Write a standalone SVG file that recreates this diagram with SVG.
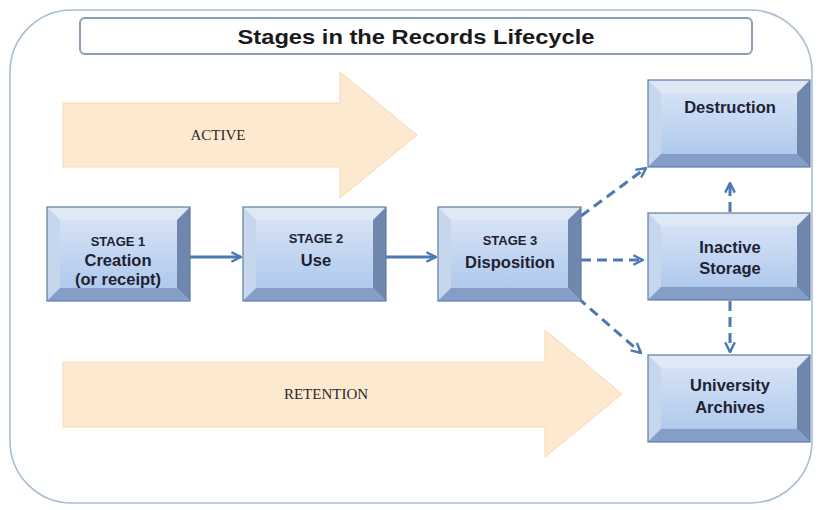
<svg xmlns="http://www.w3.org/2000/svg" xmlns:xlink="http://www.w3.org/1999/xlink" width="822" height="510" viewBox="0 0 822 510">
<style>
.frame{fill:#ffffff;stroke:#a9bdd3;stroke-width:1.6}
.titlebox{fill:#ffffff;stroke:#8c9fb8;stroke-width:2}
.title{font-family:"Liberation Sans",Arial,sans-serif;font-weight:bold;font-size:21px;fill:#1a1a1a;text-anchor:middle}
.band{fill:#fde9cf;stroke:#f6d9b2;stroke-width:1}
.bandtxt{font-family:"Liberation Serif","Times New Roman",serif;font-size:15px;fill:#2a2a2a;text-anchor:middle}
.bt{fill:#dfe8f5}
.bl{fill:#c6d6ed}
.br{fill:#6f87ad}
.bb{fill:#859ec8}
.edge{fill:none;stroke:#5f7ca6;stroke-width:1.2}
.lbl{font-family:"Liberation Sans",Arial,sans-serif;font-weight:bold;fill:#1d2233;text-anchor:middle}
.s{font-size:13px}
.m{font-size:16.5px}
.conn{fill:none;stroke:#4a79b4;stroke-width:3}
.dash{stroke-dasharray:10 6}
</style>
<defs>
<linearGradient id="face" x1="0" y1="0" x2="0" y2="1">
<stop offset="0" stop-color="#dce7f6"/>
<stop offset="1" stop-color="#a9c4ec"/>
</linearGradient>
<marker id="ah" viewBox="0 0 10 10" refX="9" refY="5" markerWidth="4" markerHeight="4" orient="auto" markerUnits="strokeWidth">
<path d="M1,1 L9,5 L1,9" fill="none" stroke="#4a79b4" stroke-width="2"/>
</marker>
<g id="boxA">
<rect x="0" y="0" width="143" height="94" fill="url(#face)"/>
<polygon class="bt" points="0,0 143,0 130,13 13,13"/>
<polygon class="bl" points="0,0 13,13 13,81 0,94"/>
<polygon class="br" points="143,0 143,94 130,81 130,13"/>
<polygon class="bb" points="0,94 13,81 130,81 143,94"/>
<rect class="edge" x="0" y="0" width="143" height="94"/>
</g>
<g id="boxB">
<rect x="0" y="0" width="162" height="87" fill="url(#face)"/>
<polygon class="bt" points="0,0 162,0 149,13 13,13"/>
<polygon class="bl" points="0,0 13,13 13,74 0,87"/>
<polygon class="br" points="162,0 162,87 149,74 149,13"/>
<polygon class="bb" points="0,87 13,74 149,74 162,87"/>
<rect class="edge" x="0" y="0" width="162" height="87"/>
</g>
</defs>

<rect class="frame" x="10" y="10" width="802" height="493" rx="62" ry="62"/>

<g id="title">
<rect class="titlebox" x="80" y="18" width="672" height="36" rx="5" ry="5"/>
<text class="title" x="416" y="44" textLength="357" lengthAdjust="spacingAndGlyphs">Stages in the Records Lifecycle</text>
</g>

<g id="active">
<polygon class="band" points="63,103 340,103 340,72 417,135 340,198 340,167 63,167"/>
<text class="bandtxt" x="218" y="140">ACTIVE</text>
</g>

<g id="retention">
<polygon class="band" points="63,362 545,362 545,330 622,394 545,457 545,427 63,427"/>
<text class="bandtxt" x="326" y="399">RETENTION</text>
</g>

<g id="connectors">
<line class="conn" x1="190" y1="257" x2="241" y2="257" marker-end="url(#ah)"/>
<line class="conn" x1="385" y1="257" x2="436" y2="257" marker-end="url(#ah)"/>
<line class="conn dash" x1="581" y1="260" x2="643" y2="260" marker-end="url(#ah)"/>
<line class="conn dash" x1="581" y1="216" x2="646" y2="168" marker-end="url(#ah)"/>
<line class="conn dash" x1="578" y1="298" x2="641" y2="353" marker-end="url(#ah)"/>
<line class="conn dash" x1="730" y1="212" x2="730" y2="183" marker-end="url(#ah)"/>
<line class="conn dash" x1="730" y1="301" x2="730" y2="352" marker-end="url(#ah)"/>
</g>

<g id="stage1">
<use xlink:href="#boxA" x="47" y="207"/>
<text class="lbl s" x="118" y="246">STAGE 1</text>
<text class="lbl m" x="118" y="266">Creation</text>
<text class="lbl m" x="118" y="285">(or receipt)</text>
</g>

<g id="stage2">
<use xlink:href="#boxA" x="243" y="207"/>
<text class="lbl s" x="316" y="243">STAGE 2</text>
<text class="lbl m" x="316" y="266">Use</text>
</g>

<g id="stage3">
<use xlink:href="#boxA" x="438" y="207"/>
<text class="lbl s" x="510" y="245">STAGE 3</text>
<text class="lbl m" x="510" y="268">Disposition</text>
</g>

<g id="destruction">
<use xlink:href="#boxB" x="648" y="80"/>
<text class="lbl m" x="730" y="113">Destruction</text>
</g>

<g id="inactive">
<use xlink:href="#boxB" x="648" y="213"/>
<text class="lbl m" x="730" y="253">Inactive</text>
<text class="lbl m" x="730" y="274">Storage</text>
</g>

<g id="archives">
<use xlink:href="#boxB" x="648" y="355"/>
<text class="lbl m" x="730" y="391">University</text>
<text class="lbl m" x="730" y="413">Archives</text>
</g>
</svg>
